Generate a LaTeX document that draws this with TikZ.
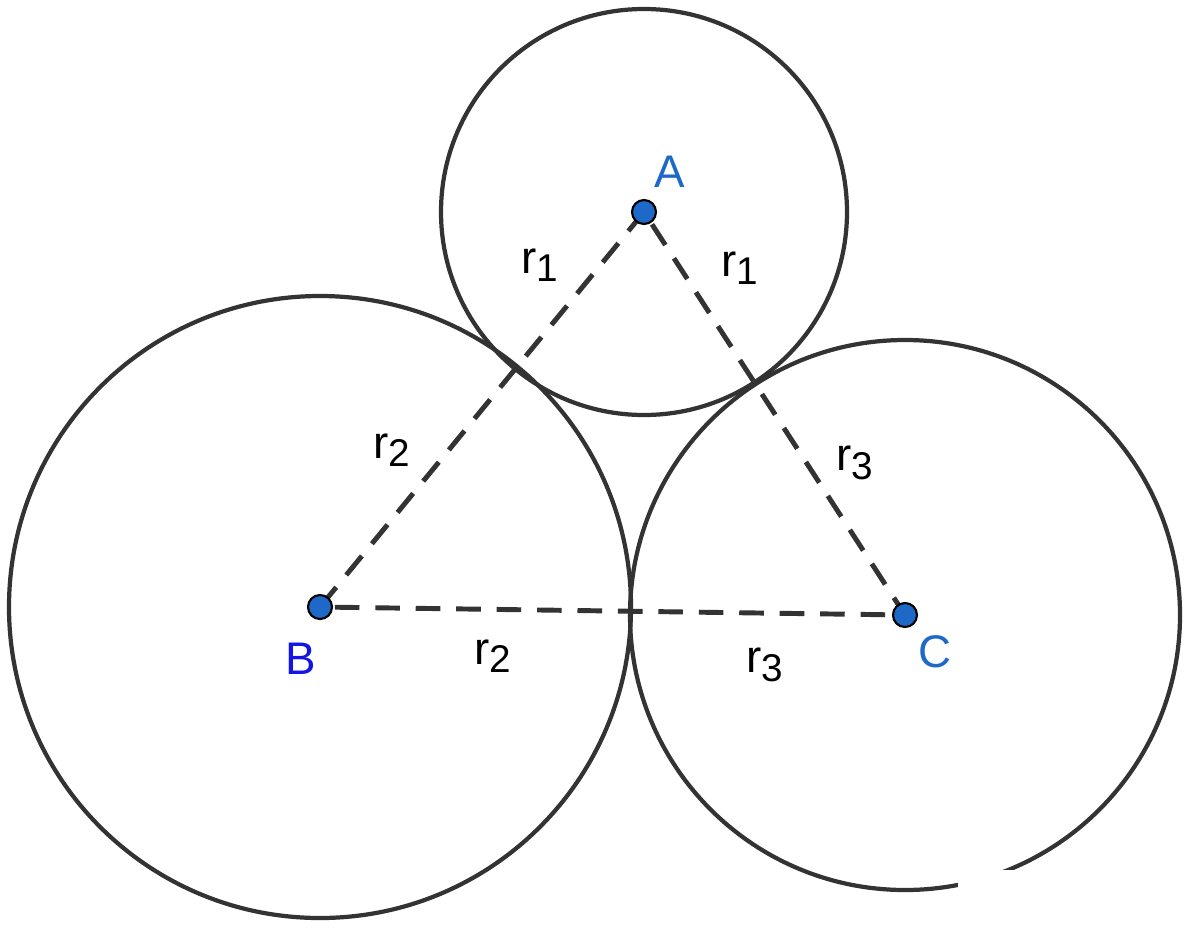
\documentclass[tikz,border=0pt]{standalone}
\usepackage{fontspec}
\setmainfont{Liberation Sans}
\usetikzlibrary{positioning}
\definecolor{ptblue}{RGB}{30,105,200}
\definecolor{lblue}{RGB}{20,20,230}
\newcommand{\rsub}[1]{r\raisebox{-0.35ex}{\fontsize{11}{13}\selectfont #1}}
\begin{document}
\begin{tikzpicture}[
    x=0.01cm, y=-0.01cm,
    circ/.style={draw=black!80, line width=1.2pt},
    side/.style={draw=black!80, line width=1.4pt, dash pattern=on 7pt off 4.5pt},
    pt/.style={circle, draw=black, fill=ptblue, line width=0.6pt, inner sep=0pt, minimum size=0.24cm},
    lab/.style={font=\fontsize{13}{15}\selectfont}
]
\useasboundingbox (0,0) rectangle (1200,936);

% circles
\draw[circ] (644,212) circle (203);
\draw[circ] (320,607) circle (311);
\draw[circ] (905,615) circle (275);
\fill[white] (958,870) rectangle (1200,936);

% centres
\coordinate (a) at (644,212);
\coordinate (b) at (320,607);
\coordinate (c) at (905,615);
\draw[side] (a) -- (b) -- (c) -- cycle;
\node[pt] (A) at (a) {};
\node[pt] (B) at (b) {};
\node[pt] (C) at (c) {};

% labels
\node[lab, text=ptblue] at (670,172) {A};
\node[lab, text=lblue] at (301,659) {B};
\node[lab, text=ptblue] at (935,652) {C};
\node[lab] at (540,265) {\rsub{1}};
\node[lab] at (740,268) {\rsub{1}};
\node[lab] at (392,450) {\rsub{2}};
\node[lab] at (493,656) {\rsub{2}};
\node[lab] at (855,463) {\rsub{3}};
\node[lab] at (765,665) {\rsub{3}};
\end{tikzpicture}
\end{document}
